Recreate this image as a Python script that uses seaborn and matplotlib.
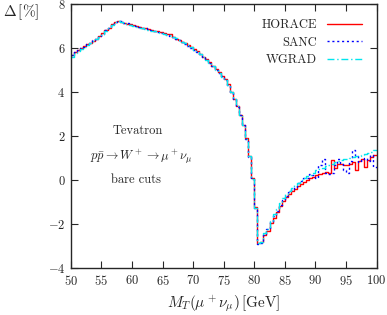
import numpy as np
import matplotlib
matplotlib.use("Agg")
import matplotlib.pyplot as plt
import seaborn as sns

sns.set_style("ticks")
plt.rcParams["font.family"] = "serif"
plt.rcParams["font.serif"] = ["cmr10", "DejaVu Serif"]
plt.rcParams["mathtext.fontset"] = "cm"
plt.rcParams["axes.formatter.use_mathtext"] = True

# ── data: 0.5 GeV bins from 50 to 100 GeV ───────────────────────────────────
BIN_LO, BIN_HI, BIN_W = 50.0, 100.0, 0.5

horace = [
    5.72, 5.85, 5.92, 6.00, 6.10, 6.18, 6.26, 6.35, 6.45, 6.55,
    6.68, 6.82, 6.95, 7.10, 7.20, 7.25, 7.21, 7.17, 7.13, 7.09,
    7.06, 7.03, 6.99, 6.95, 6.92, 6.88, 6.84, 6.81, 6.77, 6.73,
    6.70, 6.67, 6.65, 6.52, 6.45, 6.38, 6.31, 6.23, 6.15, 6.06,
    5.96, 5.86, 5.76, 5.63, 5.51, 5.36, 5.22, 5.06, 4.91, 4.76,
    4.60, 4.36, 4.02, 3.72, 3.37, 2.97, 2.52, 1.92, 1.12, 0.10,
    -1.20, -2.85, -2.82, -2.50, -2.30, -1.95, -1.70, -1.45, -1.15, -0.92,
    -0.76, -0.60, -0.48, -0.37, -0.27, -0.17, -0.08, 0.02, 0.10, 0.17,
    0.26, 0.30, 0.33, 0.36, 0.34, 0.92, 0.56, 0.76, 0.74, 0.70,
    0.72, 0.76, 0.85, 0.45, 0.90, 0.95, 0.62, 0.92, 1.05, 1.15,
]
sanc = [
    5.70, 5.83, 5.94, 6.02, 6.08, 6.20, 6.24, 6.37, 6.43, 6.57,
    6.66, 6.84, 6.93, 7.12, 7.18, 7.24, 7.23, 7.16, 7.14, 7.07,
    7.05, 7.01, 6.98, 6.93, 6.91, 6.86, 6.82, 6.79, 6.75, 6.71,
    6.66, 6.62, 6.58, 6.50, 6.44, 6.36, 6.30, 6.21, 6.13, 6.04,
    5.95, 5.84, 5.74, 5.62, 5.49, 5.34, 5.21, 5.04, 4.89, 4.74,
    4.57, 4.34, 4.01, 3.70, 3.35, 2.95, 2.50, 1.90, 1.08, 0.05,
    -1.25, -2.88, -2.84, -2.48, -2.22, -1.90, -1.62, -1.38, -1.10, -0.88,
    -0.70, -0.55, -0.40, -0.30, -0.12, -0.05, 0.10, 0.12, 0.30, 0.25,
    0.10, 0.70, 0.95, 0.32, 0.30, 0.32, 0.70, 0.95, 0.75, 0.45,
    0.35, 0.90, 1.40, 1.10, 0.85, 0.95, 1.00, 0.90, 1.15, 0.60,
]
wgrad = [
    5.62, 5.80, 5.90, 5.98, 6.07, 6.16, 6.25, 6.34, 6.43, 6.54,
    6.66, 6.80, 6.94, 7.08, 7.18, 7.24, 7.20, 7.15, 7.10, 7.06,
    7.02, 6.98, 6.95, 6.91, 6.88, 6.85, 6.81, 6.78, 6.74, 6.70,
    6.67, 6.63, 6.59, 6.53, 6.46, 6.38, 6.31, 6.23, 6.14, 6.05,
    5.95, 5.85, 5.74, 5.62, 5.49, 5.35, 5.20, 5.04, 4.89, 4.72,
    4.55, 4.32, 4.00, 3.70, 3.36, 2.96, 2.50, 1.90, 1.10, 0.05,
    -1.25, -2.85, -2.80, -2.40, -2.20, -1.85, -1.55, -1.30, -1.05, -0.82,
    -0.62, -0.46, -0.33, -0.21, -0.10, 0.00, 0.10, 0.18, 0.26, 0.33,
    0.45, 0.52, 0.58, 0.64, 0.70, 0.76, 0.82, 0.87, 0.92, 0.96,
    0.98, 1.02, 1.06, 1.09, 1.12, 1.16, 1.20, 1.25, 1.30, 1.36,
]

series = [
    ("HORACE", horace, "#ff0000", (None, None)),
    ("SANC", sanc, "#0000ff", (1.5, 2.0)),
    ("WGRAD", wgrad, "#00e5ee", (5.0, 2.0, 1.0, 2.0)),
]

edges = np.arange(BIN_LO, BIN_HI + BIN_W / 2, BIN_W)

# ── plot ────────────────────────────────────────────────────────────────────
fig = plt.figure(figsize=(3.87, 3.15), dpi=100)
ax = fig.add_axes([0.183, 0.148, 0.790, 0.838])

for name, vals, col, dash in series:
    yy = list(vals) + [vals[-1]]
    line = sns.lineplot(x=edges, y=yy, ax=ax, color=col, lw=1.0,
                        drawstyle="steps-post", label=name, estimator=None,
                        sort=False).lines[-1]
    if dash[0] is not None:
        line.set_dashes(dash)

ax.set_xlim(50, 100)
ax.set_ylim(-4, 8)
ax.set_xticks(range(50, 101, 5))
ax.set_yticks(range(-4, 9, 2))
ax.tick_params(direction="in", top=True, right=True, length=5, width=0.8,
               labelsize=9, pad=4)
for sp in ax.spines.values():
    sp.set_linewidth(1.0)

ax.legend(loc="upper right", frameon=False, markerfirst=False, fontsize=9,
          handlelength=2.8, borderaxespad=0.75, labelspacing=0.45)

ax.text(61.0, 2.25, "Tevatron", ha="center", va="center", fontsize=9)
ax.text(61.5, 1.05, r"$p\bar{p}\to W^+\to\mu^+\nu_\mu$", ha="center",
        va="center", fontsize=9)
ax.text(60.7, 0.0, "bare cuts", ha="center", va="center", fontsize=9)

ax.set_xlabel(r"$M_T(\mu^+\nu_\mu)\,[\mathrm{GeV}]$", fontsize=11, labelpad=4)
ax.set_ylabel("")
fig.text(0.008, 0.962, r"$\Delta\,[\%]$", fontsize=11, ha="left", va="center")

fig.savefig("out.png", dpi=100)
